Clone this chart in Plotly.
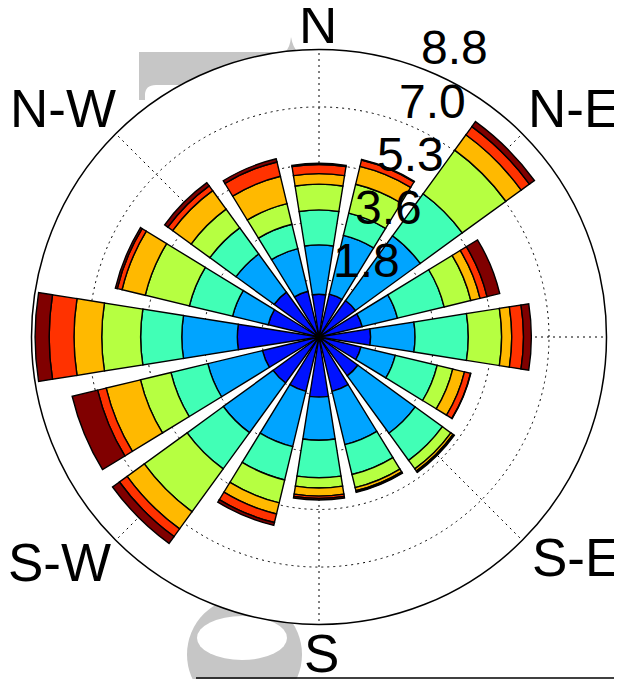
import plotly.graph_objects as go
import math

# ---------------- data ----------------
directions = ["N", "NNE", "NE", "ENE", "E", "ESE", "SE", "SSE",
              "S", "SSW", "SW", "WSW", "W", "WNW", "NW", "NNW"]
direction_deg = [0, 22.5, 45, 67.5, 90, 112.5, 135, 157.5,
                 180, 202.5, 225, 247.5, 270, 292.5, 315, 337.5]

# stacked contribution of each speed class (frequency units), per direction
bin1 = [1.31, 1.35, 1.38, 1.36, 1.58, 1.32, 1.47, 1.71, 1.84, 1.71, 1.74, 1.78, 2.50, 1.60, 1.70, 1.44]
bin2 = [1.51, 1.85, 2.45, 1.11, 1.36, 1.08, 2.17, 1.68, 1.32, 1.74, 1.88, 1.72, 1.70, 1.12, 1.44, 1.34]
bin3 = [1.07, 0.70, 1.59, 1.47, 1.63, 1.32, 1.03, 0.94, 1.15, 1.05, 1.37, 1.16, 1.26, 1.36, 0.99, 0.77]
bin4 = [0.79, 0.91, 1.65, 0.84, 1.02, 0.49, 0.32, 0.41, 0.31, 0.72, 1.62, 0.96, 1.19, 1.39, 0.71, 0.65]
bin5 = [0.32, 0.56, 0.58, 0.29, 0.31, 0.37, 0.08, 0.10, 0.25, 0.35, 0.65, 1.08, 0.85, 0.73, 0.70, 0.86]
bin6 = [0.28, 0.20, 0.31, 0.22, 0.36, 0.19, 0.03, 0.03, 0.07, 0.27, 0.29, 0.27, 0.76, 0.15, 0.18, 0.45]
bin7 = [0.04, 0.02, 0.19, 0.40, 0.24, 0.01, 0.02, 0.02, 0.05, 0.09, 0.26, 0.80, 0.43, 0.06, 0.12, 0.10]
bins = [bin1, bin2, bin3, bin4, bin5, bin6, bin7]
bin_names = ["class 1", "class 2", "class 3", "class 4", "class 5", "class 6", "class 7"]

radial_tickvals = [1.76, 3.52, 5.28, 7.04, 8.8]
radial_ticktext = ["1.8", "3.6", "5.3", "7.0", "8.8"]
radial_max = 8.8

compass_text = ["N", "N-E", "E", "S-E", "S", "S-W", "N-W"]

# ---------------- styles / layout ----------------
colors = ["#0012ff", "#00a4ff", "#41ffb6", "#b6ff41", "#ffb900", "#ff3200", "#800000"]
W, H = 622, 679
OFF = 8                               # page margin of the html body
cx, cy, R = 319, 337, 287.5          # polar centre and radius in picture pixels
FONT = "Liberation Sans, Arial, Helvetica, sans-serif"

# compass label centres (picture px) and anchors
compass_pos = [(317.5, 24, "center"), (573.5, 108, "center"), (616, 340, "left"),
               (576, 557, "center"), (322, 653, "center"), (59, 562, "center"),
               (62.5, 108, "center")]


def px(x, y):
    return (x - OFF) / W, 1 - (y - OFF) / H


fig = go.Figure()
for vals, name, col in zip(bins, bin_names, colors):
    fig.add_trace(go.Barpolar(
        r=vals, theta=direction_deg, name=name,
        marker=dict(color=col, line=dict(color="black", width=1.4)),
        showlegend=False, hoverinfo="skip"))

annotations = []
a = math.radians(22.5)
for v, t in zip(radial_tickvals, radial_ticktext):
    rp = v / radial_max * R
    x = cx + rp * math.sin(a) + 25
    y = cy - rp * math.cos(a) - 23.5
    xp, yp = px(x, y)
    annotations.append(dict(x=xp, y=yp, xref="paper", yref="paper", text=t,
                            showarrow=False, xanchor="center", yanchor="middle",
                            font=dict(family=FONT, size=48, color="black")))
for t, (x, y, anc) in zip(compass_text, compass_pos):
    xp, yp = px(x, y)
    annotations.append(dict(x=xp, y=yp, xref="paper", yref="paper", text=t,
                            showarrow=False, xanchor=anc, yanchor="middle",
                            font=dict(family=FONT, size=53, color="black")))


def path(points):
    s = ""
    for cmd, *pts in points:
        coords = []
        for j in range(0, len(pts), 2):
            xp, yp = px(pts[j], pts[j + 1])
            coords.append(f"{xp:.5f},{yp:.5f}")
        s += cmd + " ".join(coords) + " "
    return s + "Z"


gray = "#c6c6c6"
top_mark = path([("M", 139, 52), ("L", 285, 52), ("Q", 290, 48, 291, 37),
                 ("Q", 293, 48, 298, 52), ("L", 330, 52), ("L", 330, 85),
                 ("L", 156, 85), ("Q", 145, 85, 145, 95), ("L", 145, 100),
                 ("L", 139, 100)])
shapes = [
    dict(type="path", path=top_mark, xref="paper", yref="paper",
         fillcolor=gray, line=dict(width=0), layer="below"),
    dict(type="circle", xref="paper", yref="paper",
         x0=px(187, 0)[0], x1=px(302, 0)[0], y0=px(0, 597)[1], y1=px(0, 712)[1],
         fillcolor=gray, line=dict(width=0), layer="below"),
    dict(type="circle", xref="paper", yref="paper",
         x0=px(197, 0)[0], x1=px(287, 0)[0], y0=px(0, 616)[1], y1=px(0, 660)[1],
         fillcolor="white", line=dict(width=0), layer="below"),
    dict(type="line", xref="paper", yref="paper",
         x0=px(196, 0)[0], x1=1, y0=px(0, 678)[1], y1=px(0, 678)[1],
         line=dict(color="black", width=1.5)),
]

fig.update_layout(
    width=W, height=H, template="none",
    margin=dict(l=0, r=0, t=0, b=0),
    paper_bgcolor="white",
    showlegend=False,
    polar=dict(
        domain=dict(x=[(cx - OFF - R) / W, (cx - OFF + R) / W],
                    y=[(H - (cy - OFF) - R) / H, (H - (cy - OFF) + R) / H]),
        bgcolor="white",
        barmode="stack",
        bargap=0.2,
        radialaxis=dict(range=[0, radial_max], tickvals=radial_tickvals,
                        showticklabels=False, ticks="", showline=False,
                        gridcolor="black", griddash="2px,4px", gridwidth=1.3),
        angularaxis=dict(rotation=90, direction="clockwise",
                         tickvals=[0, 45, 90, 135, 180, 225, 270, 315],
                         showticklabels=False, ticks="",
                         gridcolor="black", griddash="2px,4px", gridwidth=1.3,
                         showline=True, linecolor="black", linewidth=1.5),
    ),
    annotations=annotations,
    shapes=shapes,
)

fig.write_html("out.html")
